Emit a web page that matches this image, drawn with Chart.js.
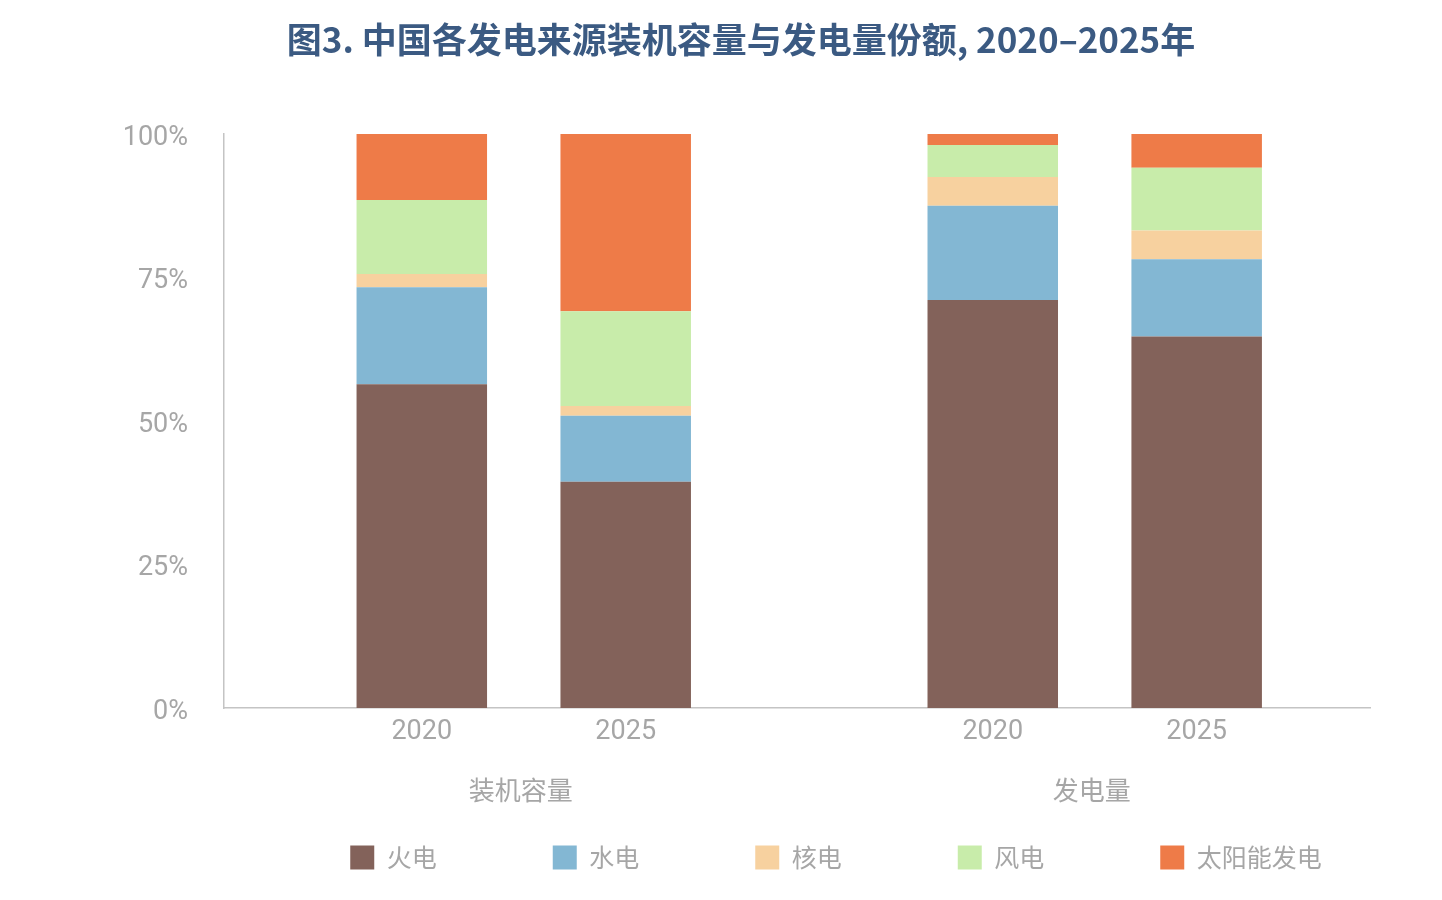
<!DOCTYPE html>
<html lang="zh">
<head>
<meta charset="utf-8">
<title>图3. 中国各发电来源装机容量与发电量份额</title>
<script src="https://cdn.jsdelivr.net/npm/chart.js@4.4.0/dist/chart.umd.min.js"></script>
<style>
  html, body { margin: 0; padding: 0; background: #fff; }
  #wrap { width: 1442px; height: 900px; }
</style>
</head>
<body>
<div id="wrap"><canvas id="myChart"></canvas></div>
<script>
const ctx = document.getElementById("myChart");

const groups = ["装机容量", "发电量"];
const years = ["2020", "2025"];
const sources = ["火电", "水电", "核电", "风电", "太阳能发电"];

// shares in %, bars in order: 装机容量 2020, 2025, 发电量 2020, 2025
const thermal = [56.4, 39.4, 71.1, 64.7];
const hydro = [16.9, 11.5, 16.4, 13.5];
const nuclear = [2.3, 1.7, 5.0, 5.0];
const wind = [12.9, 16.5, 5.6, 10.9];
const solar = [11.5, 30.9, 1.9, 5.9];
const yTicks = [0, 25, 50, 75, 100];

const colors = ["#83625a", "#83b7d3", "#f7d19f", "#c8ecaa", "#ee7b48"];
const GRAY = "#a6a6a6";
const AXIS = "#c4c4c4";
const GROUP_GAP = 1.8; // space between the two groups, in bar slots

// slot of every bar on the x axis, and its tick label
const slots = [];
const tickLabels = [];
groups.forEach((g, gi) => {
  years.forEach((y, yi) => {
    slots.push(gi * (years.length - 1 + GROUP_GAP) + yi);
    tickLabels.push(y);
  });
});

const series = [thermal, hydro, nuclear, wind, solar];

// group names under the years
const groupLabels = {
  id: "groupLabels",
  afterDraw(chart) {
    const x = chart.scales.x;
    const c = chart.ctx;
    c.save();
    c.fillStyle = GRAY;
    c.font = "26px 'Noto Sans CJK SC'";
    c.textAlign = "center";
    c.textBaseline = "middle";
    groups.forEach((g, gi) => {
      const first = slots[gi * years.length];
      const last = slots[gi * years.length + years.length - 1];
      c.fillText(g, x.getPixelForValue((first + last) / 2) - 3, 790);
    });
    c.restore();
  },
};

// the legend sits right of centre and a bit higher in the original
const legendShift = {
  id: "legendShift",
  afterLayout(chart) {
    const lg = chart.legend;
    lg.left += 95;
    lg.right += 95;
    lg.top -= 20;
    lg.bottom -= 20;
  },
};

new Chart(ctx, {
  type: "bar",
  data: {
    datasets: series.map((values, i) => ({
      label: sources[i],
      data: values.map((v, j) => ({ x: slots[j], y: v })),
      backgroundColor: colors[i],
      borderWidth: 0,
      categoryPercentage: 0.8,
      barPercentage: 0.8,
    })),
  },
  options: {
    responsive: true,
    maintainAspectRatio: false,
    animation: false,
    layout: {
      padding: { left: 112, right: 72, top: 0, bottom: 0 },
    },
    scales: {
      x: {
        type: "linear",
        stacked: true,
        offset: false,
        min: slots[0] - 0.97,
        max: slots[slots.length - 1] + 0.85,
        grid: { display: false, drawTicks: false },
        border: { color: AXIS, width: 1.5 },
        afterBuildTicks: (scale) => {
          scale.ticks = slots.map((v) => ({ value: v }));
        },
        afterFit: (scale) => {
          scale.height = 41;
        },
        ticks: {
          autoSkip: false,
          maxRotation: 0,
          padding: 8,
          color: GRAY,
          font: { family: "Roboto", size: 27 },
          callback: (value, index) => tickLabels[index],
        },
      },
      y: {
        stacked: true,
        min: 0,
        max: 100,
        grid: { display: false, drawTicks: false },
        border: { color: AXIS, width: 1.5 },
        afterBuildTicks: (scale) => {
          scale.ticks = yTicks.map((v) => ({ value: v }));
        },
        afterFit: (scale) => {
          scale.width = 112;
        },
        ticks: {
          padding: 36,
          labelOffset: 4,
          color: GRAY,
          font: { family: "Roboto", size: 27 },
          callback: (value) => value + "%",
        },
      },
    },
    plugins: {
      title: {
        display: true,
        text: "图3. 中国各发电来源装机容量与发电量份额, 2020–2025年",
        color: "#3b5a82",
        font: { family: "'Noto Sans CJK SC'", size: 35, weight: "bold" },
        padding: { top: 19, bottom: 73 },
      },
      legend: {
        position: "bottom",
        labels: {
          boxWidth: 24,
          boxHeight: 24,
          padding: 116,
          color: GRAY,
          font: { family: "'Noto Sans CJK SC'", size: 25 },
        },
      },
      tooltip: { enabled: false },
    },
  },
  plugins: [groupLabels, legendShift],
});
</script>
</body>
</html>
